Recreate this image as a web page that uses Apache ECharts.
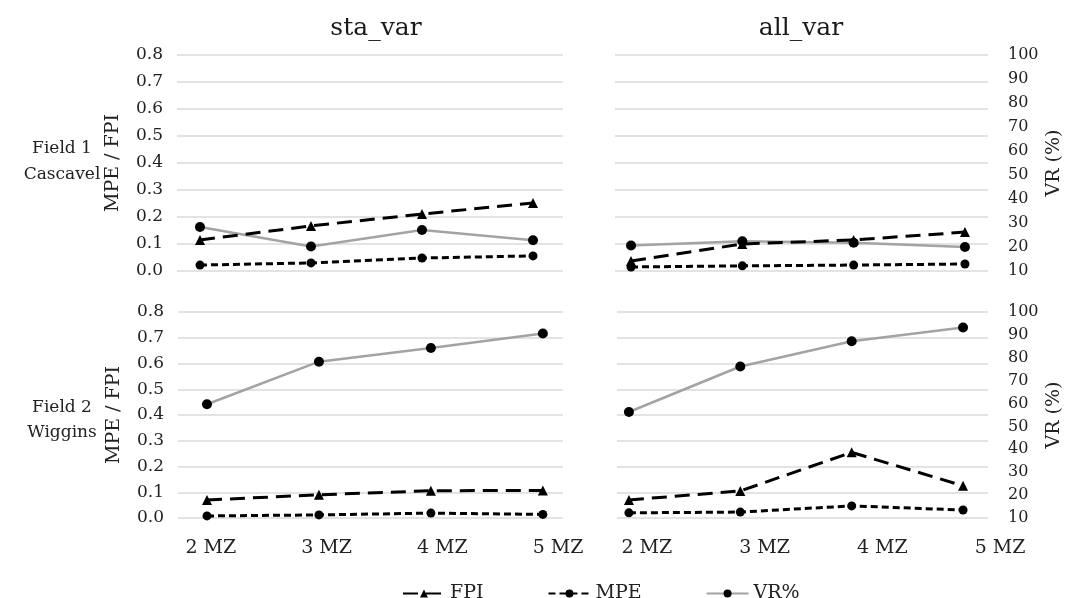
<!DOCTYPE html>
<html>
<head>
<meta charset="utf-8">
<script src="https://cdn.jsdelivr.net/npm/echarts@6/dist/echarts.min.js"></script>
<style>
  html, body { margin: 0; padding: 0; background: #fff; }
  #main { width: 1065px; height: 598px; }
</style>
</head>
<body>
<div id="main"></div>
<script>
var chartDom = document.getElementById('main');
var myChart = echarts.init(chartDom, null, { renderer: 'canvas' });

// data
const categories = ['2 MZ', '3 MZ', '4 MZ', '5 MZ'];
const panelTitles = ['sta_var', 'all_var'];
const fieldLabels = ['Field 1\nCascavel', 'Field 2\nWiggins'];
const leftTicks = [0, 0.8, 0.1];
const rightTicks = [10, 100, 10];

const fpiF1Sta = [0.115, 0.167, 0.211, 0.252];
const mpeF1Sta = [0.022, 0.030, 0.048, 0.056];
const vrF1Sta = [28.3, 20.2, 27.1, 22.8];

const fpiF1All = [0.037, 0.100, 0.115, 0.144];
const mpeF1All = [0.015, 0.019, 0.022, 0.026];
const vrF1All = [20.6, 22.4, 21.8, 20.0];

const fpiF2Sta = [0.070, 0.090, 0.106, 0.107];
const mpeF2Sta = [0.008, 0.012, 0.019, 0.014];
const vrF2Sta = [59.7, 78.3, 84.3, 90.6];

const fpiF2All = [0.070, 0.105, 0.255, 0.125];
const mpeF2All = [0.020, 0.023, 0.047, 0.031];
const vrF2All = [56.3, 76.2, 87.2, 93.2];

const font = 'DejaVu Serif';
const textColor = '#222';
const gridColor = '#dadada';

// panel layout: grid box + x range (in category index units)
const panels = [
    { left: 177, top: 55, width: 386, height: 216, xmin: -0.207, xmax: 3.27, rightLabels: false, leftLabels: true },
    { left: 615, top: 55, width: 373, height: 216, xmin: -0.144, xmax: 3.207, rightLabels: true, leftLabels: false },
    { left: 178, top: 312, width: 385, height: 206, xmin: -0.259, xmax: 3.18, rightLabels: false, leftLabels: true },
    { left: 617, top: 312, width: 372, height: 206, xmin: -0.107, xmax: 3.224, rightLabels: true, leftLabels: false }
];
const panelData = [
    [fpiF1Sta, mpeF1Sta, vrF1Sta],
    [fpiF1All, mpeF1All, vrF1All],
    [fpiF2Sta, mpeF2Sta, vrF2Sta],
    [fpiF2All, mpeF2All, vrF2All]
];

const grid = [];
const xAxis = [];
const yAxis = [];
const series = [];

panels.forEach(function (p, i) {
    grid.push({ left: p.left, top: p.top, width: p.width, height: p.height });
    xAxis.push({
        type: 'value', gridIndex: i, min: p.xmin, max: p.xmax, show: false
    });
    yAxis.push({
        type: 'value', gridIndex: i,
        min: leftTicks[0], max: leftTicks[1], interval: leftTicks[2],
        name: p.leftLabels ? 'MPE / FPI' : '',
        nameLocation: 'middle', nameRotate: 90, nameGap: 54,
        nameTextStyle: { fontFamily: font, fontSize: 19, color: textColor },
        axisLine: { show: false }, axisTick: { show: false },
        axisLabel: {
            show: p.leftLabels, margin: 14,
            fontFamily: font, fontSize: 17, color: textColor,
            formatter: function (v) { return v.toFixed(1); }
        },
        splitLine: { show: true, lineStyle: { color: gridColor, width: 1.5 } }
    });
    yAxis.push({
        type: 'value', gridIndex: i, position: 'right',
        min: rightTicks[0], max: rightTicks[1], interval: rightTicks[2],
        show: true,
        name: p.rightLabels ? 'VR (%)' : '',
        nameLocation: 'middle', nameRotate: 90, nameGap: 57,
        nameTextStyle: { fontFamily: font, fontSize: 19, color: textColor },
        axisLine: { show: false }, axisTick: { show: false },
        axisLabel: {
            show: p.rightLabels, margin: 20,
            fontFamily: font, fontSize: 16, color: textColor
        },
        splitLine: { show: false }
    });
    const d = panelData[i];
    const pts = function (arr) { return arr.map(function (v, k) { return [k, v]; }); };
    series.push({
        name: 'FPI', type: 'line', xAxisIndex: i, yAxisIndex: 2 * i,
        data: pts(d[0]), symbol: 'triangle', symbolSize: 10, z: 3,
        itemStyle: { color: '#000' },
        lineStyle: { color: '#000', width: 3, type: [15, 8] }
    });
    series.push({
        name: 'MPE', type: 'line', xAxisIndex: i, yAxisIndex: 2 * i,
        data: pts(d[1]), symbol: 'circle', symbolSize: 9, z: 3,
        itemStyle: { color: '#000' },
        lineStyle: { color: '#000', width: 3, type: [7, 4] }
    });
    series.push({
        name: 'VR%', type: 'line', xAxisIndex: i, yAxisIndex: 2 * i + 1,
        data: pts(d[2]), symbol: 'circle', symbolSize: 10, z: 2,
        itemStyle: { color: '#000' },
        lineStyle: { color: '#a3a3a3', width: 2.5, type: 'solid' }
    });
});

// category label strips below the bottom panels
const labelGrids = [
    { left: 153, top: 312, width: 463, height: 206 },
    { left: 588, top: 312, width: 471, height: 206 }
];
labelGrids.forEach(function (g) {
    const gi = grid.length;
    grid.push(g);
    xAxis.push({
        type: 'category', gridIndex: gi, data: categories, boundaryGap: true,
        axisLine: { show: false }, axisTick: { show: false },
        axisLabel: { margin: 21, fontFamily: font, fontSize: 19, color: textColor },
        splitLine: { show: false }
    });
    yAxis.push({ type: 'value', gridIndex: gi, show: false });
});

option = {
    animation: false,
    backgroundColor: '#fff',
    title: [
        { text: panelTitles[0], left: 371, top: 11, textAlign: 'center',
          textStyle: { fontFamily: font, fontSize: 25, fontWeight: 'normal', color: '#1a1a1a' } },
        { text: panelTitles[1], left: 796, top: 11, textAlign: 'center',
          textStyle: { fontFamily: font, fontSize: 25, fontWeight: 'normal', color: '#1a1a1a' } },
        { text: fieldLabels[0], left: 57, top: 131, textAlign: 'center',
          textStyle: { fontFamily: font, fontSize: 17, fontWeight: 'normal', color: textColor, lineHeight: 26 } },
        { text: fieldLabels[1], left: 57, top: 390, textAlign: 'center',
          textStyle: { fontFamily: font, fontSize: 17, fontWeight: 'normal', color: textColor, lineHeight: 25 } }
    ],
    legend: {
        data: ['FPI', 'MPE', 'VR%'],
        left: 397, top: 579,
        itemWidth: 42, itemHeight: 10, itemGap: 64,
        textStyle: { fontFamily: font, fontSize: 19, color: textColor }
    },
    grid: grid,
    xAxis: xAxis,
    yAxis: yAxis,
    series: series
};
option && myChart.setOption(option);
</script>
</body>
</html>
